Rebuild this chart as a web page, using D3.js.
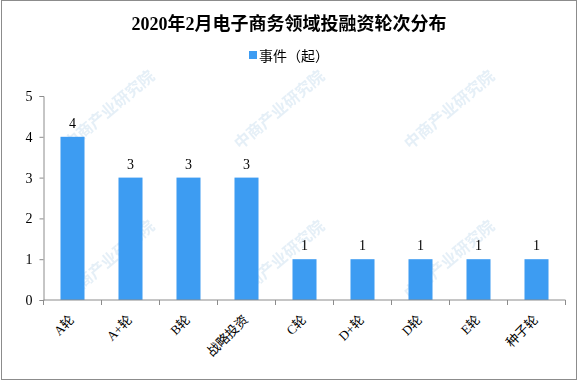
<!DOCTYPE html>
<html>
<head>
<meta charset="utf-8">
<script src="https://cdn.jsdelivr.net/npm/d3@7"></script>
<style>
  body { margin: 0; background: #fff; }
  svg text { font-family: "Liberation Serif", "Noto Sans CJK SC", serif; }
</style>
</head>
<body>
<div id="chart"></div>
<script>
var categories = ["A轮", "A+轮", "B轮", "战略投资", "C轮", "D+轮", "D轮", "E轮", "种子轮"];
var events = [4, 3, 3, 3, 1, 1, 1, 1, 1];
var yTicks = [0, 1, 2, 3, 4, 5];
var title = "2020年2月电子商务领域投融资轮次分布";
var seriesName = "事件（起）";

var width = 578, height = 381;
var margin = {left: 43.5, right: 12.5, top: 96, bottom: 81};

var svg = d3.select("#chart").append("svg")
    .attr("width", width)
    .attr("height", height);

// border
svg.append("rect")
    .attr("x", 1.5).attr("y", 0.5)
    .attr("width", width - 3).attr("height", height - 2)
    .attr("fill", "none")
    .attr("stroke", "#8c8c8c");

// faint watermarks
var wm = svg.append("g").attr("fill", "#d4e5f2").attr("opacity", 0.6);
var wmPos = [[70, 150], [240, 150], [410, 150], [70, 300], [240, 300], [410, 300]];
wmPos.forEach(function(p){
    wm.append("text")
        .attr("transform", "translate(" + p[0] + "," + p[1] + ") rotate(-40)")
        .attr("font-size", "16px")
        .attr("font-weight", "bold")
        .style("font-family", "Noto Sans CJK SC")
        .text("中商产业研究院");
});

// title
svg.append("text")
    .attr("x", width / 2)
    .attr("y", 30)
    .attr("text-anchor", "middle")
    .attr("font-size", "18px")
    .attr("font-weight", "bold")
    .text(title);

// legend
svg.append("rect")
    .attr("x", 249).attr("y", 51)
    .attr("width", 8).attr("height", 8)
    .attr("fill", "#3d9cf2");
svg.append("text")
    .attr("x", 259)
    .attr("y", 61)
    .attr("font-size", "14px")
    .style("font-family", "Noto Sans CJK SC")
    .text(seriesName);

var x = d3.scaleBand()
    .domain(categories)
    .range([margin.left, width - margin.right])
    .paddingInner(0.586)
    .paddingOuter(0.293);

var y = d3.scaleLinear()
    .domain([0, 5])
    .range([height - margin.bottom, margin.top]);

// bars
svg.selectAll(".bar")
    .data(events)
    .enter()
    .append("rect")
    .attr("class", "bar")
    .attr("x", function(d, i){ return x(categories[i]); })
    .attr("y", function(d){ return y(d); })
    .attr("width", x.bandwidth())
    .attr("height", function(d){ return y(0) - y(d); })
    .attr("fill", "#3d9cf2");

// value labels
svg.selectAll(".val")
    .data(events)
    .enter()
    .append("text")
    .attr("x", function(d, i){ return x(categories[i]) + x.bandwidth() / 2; })
    .attr("y", function(d){ return y(d) - 9; })
    .attr("text-anchor", "middle")
    .attr("font-size", "14px")
    .text(function(d){ return d; });

// y axis
var yAxis = svg.append("g")
    .attr("transform", "translate(" + margin.left + ",0)")
    .call(d3.axisLeft(y).tickValues(yTicks).tickSize(4).tickFormat(d3.format("d")));
yAxis.selectAll("path, line").attr("stroke", "#8c8c8c");
yAxis.selectAll("text")
    .attr("font-size", "14px")
    .attr("fill", "#000")
    .attr("x", -11)
    .style("font-family", "Liberation Serif");

// x axis with ticks at band edges
var xg = svg.append("g")
    .attr("transform", "translate(0," + y(0) + ")");
xg.append("line")
    .attr("x1", margin.left).attr("x2", width - margin.right)
    .attr("stroke", "#8c8c8c");
var step = x.step();
var edges = categories.map(function(c){ return x(c) - x.paddingInner() * step / 2; });
edges.push(width - margin.right);
xg.selectAll(".tk")
    .data(edges)
    .enter()
    .append("line")
    .attr("x1", function(d){ return d; })
    .attr("x2", function(d){ return d; })
    .attr("y1", 0).attr("y2", 5)
    .attr("stroke", "#8c8c8c");

xg.selectAll(".lbl")
    .data(categories)
    .enter()
    .append("text")
    .attr("transform", function(d){
        return "translate(" + (x(d) + x.bandwidth() / 2 + 2.5) + ",20.5) rotate(-45)";
    })
    .attr("text-anchor", "end")
    .attr("font-size", "13px")
    .text(function(d){ return d; });
</script>
</body>
</html>
